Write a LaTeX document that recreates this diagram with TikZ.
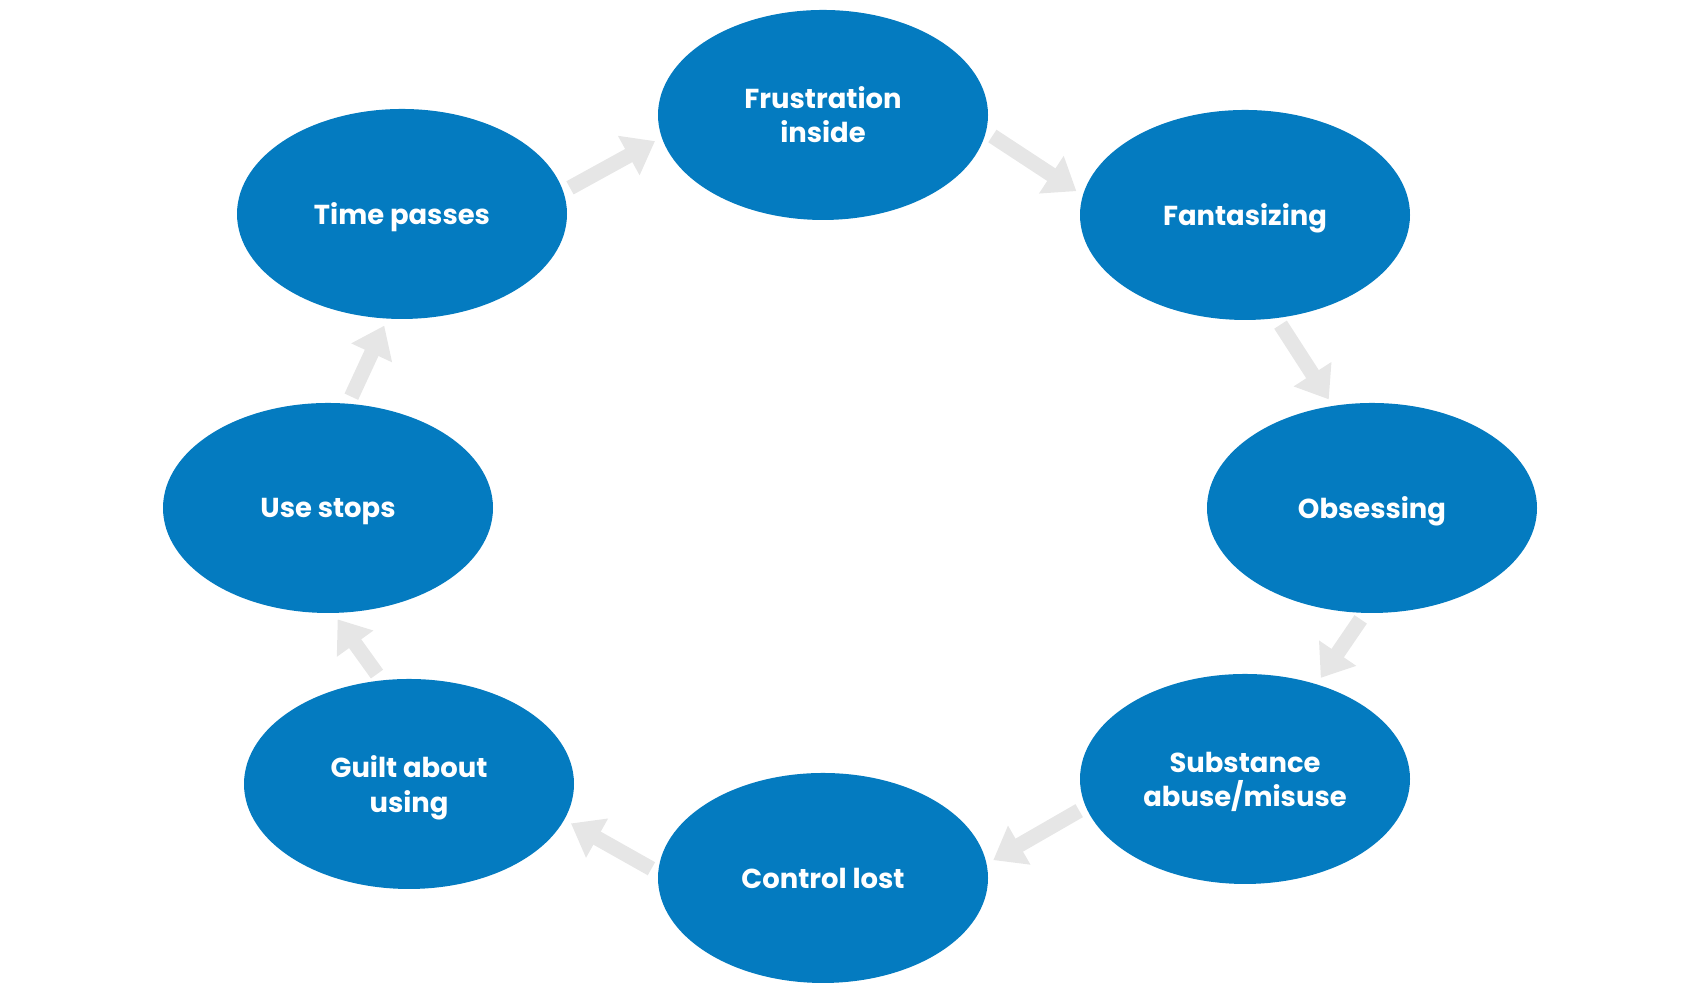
\documentclass[tikz,border=0pt]{standalone}
\usepackage{fontspec}
\setmainfont{Poppins}
\usetikzlibrary{shapes.geometric, arrows.meta}
\definecolor{cycleblue}{RGB}{4,123,192}
\definecolor{arrowgray}{RGB}{230,230,230}

\begin{document}
\begin{tikzpicture}[
    stage/.style={ellipse, fill=cycleblue, minimum width=3.3cm, minimum height=2.1cm,
        inner sep=0pt, text=white, align=center, text depth=-1pt,
        font=\bfseries\fontsize{7.8}{9.7}\selectfont},
    flow/.style={draw=arrowgray, line width=0.15cm, shorten <=2pt, shorten >=2pt,
        -{Triangle[length=0.3cm, width=0.43cm]}}
]

            % Khung ảnh
            \useasboundingbox (0,0) rectangle (17,10);
            
            % Các giai đoạn của vòng lặp
            \node[stage] (frust) at (8.23,8.85) {Frustration\\inside};
            \node[stage] (fant) at (12.45,7.85) {Fantasizing};
            \node[stage] (obs) at (13.72,4.92) {Obsessing};
            \node[stage] (subst) at (12.45,2.21) {Substance\\abuse/misuse};
            \node[stage] (ctrl) at (8.23,1.22) {Control lost};
            \node[stage] (guilt) at (4.09,2.16) {Guilt about\\using};
            \node[stage] (use) at (3.28,4.92) {Use stops};
            \node[stage] (time) at (4.02,7.86) {Time passes};
            
            % Các mũi tên nối giữa các giai đoạn
            \draw[flow] (time.8) -- (frust.188);
            \draw[flow] (frust.-6) -- (fant.173);
            \draw[flow] (fant.-73) -- (obs.111);
            \draw[flow] (obs.-94) -- (subst.53);
            \draw[flow] (subst.190) -- (ctrl.5);
            \draw[flow] (ctrl.178) -- (guilt.-13);
            \draw[flow] (guilt.105) -- (use.-87);
            \draw[flow] (use.79) -- (time.-98);
            
            \end{tikzpicture}
\end{document}
